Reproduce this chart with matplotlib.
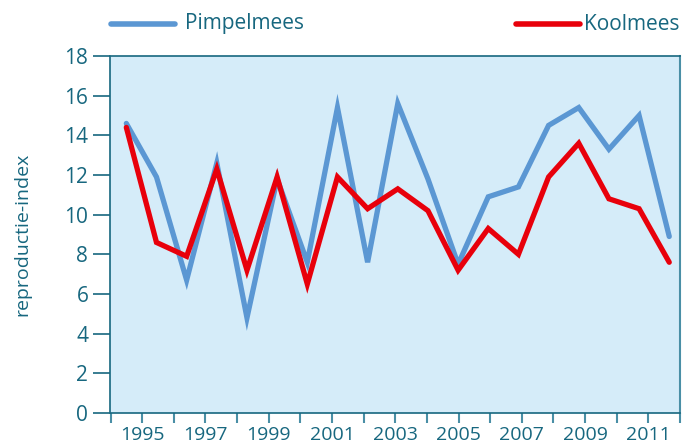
import matplotlib
matplotlib.use("Agg")
import matplotlib.pyplot as plt
import numpy as np

# data (19 yearly points)
pimpelmees = [14.6, 11.9, 6.7, 12.6, 4.8, 11.8, 7.6, 15.4, 7.6, 15.6, 11.8, 7.5, 10.9, 11.4, 14.5, 15.4, 13.3, 15.0, 8.9]
koolmees   = [14.4, 8.6, 7.9, 12.3, 7.2, 11.9, 6.5, 11.9, 10.3, 11.3, 10.2, 7.2, 9.3, 8.0, 11.9, 13.6, 10.8, 10.3, 7.6]
tick_years = list(range(1994, 2013))
label_years = [1995, 1997, 1999, 2001, 2003, 2005, 2007, 2009, 2011]
yticks = [0, 2, 4, 6, 8, 10, 12, 14, 16, 18]

teal = "#17677f"
teal_light = "#4a8fa6"
bg = "#d5ecf9"
blue = "#5b97d3"
red = "#e8000b"

plt.rcParams['font.family'] = ['Open Sans', 'DejaVu Sans']

fig = plt.figure(figsize=(6.94, 4.47), dpi=100)
ax = fig.add_axes([110.5/694, 34/447, (680-110.5)/694, (413-56)/447])
ax.set_facecolor(bg)

# points span from 1994.5 to ~2011.66 on the year scale
n = len(pimpelmees)
x0, x1 = 1994.5, 2011.66
xs = np.linspace(x0, x1, n)

ax.plot(xs, pimpelmees, color=blue, lw=3.8, solid_joinstyle='miter', solid_capstyle='round', label='Pimpelmees')
ax.plot(xs, koolmees, color=red, lw=3.8, solid_joinstyle='miter', solid_capstyle='round', label='Koolmees')

ax.set_xlim(1994, 2012)
ax.set_ylim(0, 18)
ax.set_yticks(yticks)
ax.set_xticks(tick_years)
ax.set_xticklabels([str(y) if y in label_years else "" for y in tick_years])
ax.tick_params(axis='y', colors=teal, labelsize=15, length=12, width=1.2, pad=4)
ax.tick_params(axis='x', colors=teal_light, labelcolor=teal, labelsize=14, length=7, width=1.5, pad=2)
for s in ['left', 'top', 'bottom']:
    ax.spines[s].set_color(teal)
    ax.spines[s].set_linewidth(1.2)
ax.spines['right'].set_color(teal_light)
ax.spines['right'].set_linewidth(1.5)

ax.set_ylabel('reproductie-index', color=teal, fontsize=14, labelpad=24)

# legend entries at top
fig.lines.append(plt.Line2D([111/694, 175/694], [1-24/447, 1-24/447], color=blue, lw=4, solid_capstyle='round', transform=fig.transFigure))
fig.text(185/694, 1-24/447, 'Pimpelmees', color=teal, fontsize=15, va='center', ha='left')
fig.lines.append(plt.Line2D([516/694, 580/694], [1-24/447, 1-24/447], color=red, lw=4, solid_capstyle='round', transform=fig.transFigure))
fig.text(680/694, 1-24/447, 'Koolmees', color=teal, fontsize=15, va='center', ha='right')

fig.savefig('out.png', dpi=100)
